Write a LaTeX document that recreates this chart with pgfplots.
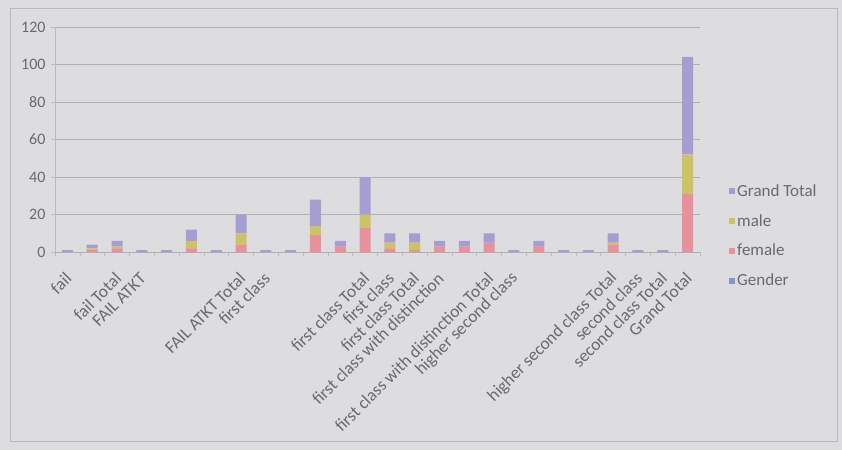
\documentclass[border=0pt]{standalone}
\usepackage{pgfplots}
\pgfplotsset{compat=1.18}
\usepackage{fontspec}
\setmainfont{Carlito}
\definecolor{bgc}{RGB}{221,221,224}
\definecolor{framec}{RGB}{185,185,190}
\definecolor{gridc}{RGB}{175,175,180}
\definecolor{textc}{RGB}{105,105,112}
\definecolor{cfemale}{RGB}{230,145,155}
\definecolor{cmale}{RGB}{205,195,100}
\definecolor{cgt}{RGB}{165,158,210}
\definecolor{cgender}{RGB}{135,150,200}
\begin{document}
\begin{tikzpicture}
\fill[bgc] (0pt,0pt) rectangle (842pt,450pt);
\draw[framec, line width=0.8pt] (10pt,9pt) rectangle (837pt,442pt);
\begin{axis}[
  at={(55pt,198pt)}, anchor=south west,
  scale only axis, width=645pt, height=225pt,
  ybar stacked, bar width=11pt,
  xmin=0.5, xmax=26.5, ymin=0, ymax=120,
  enlarge x limits=false, enlarge y limits=false,
  ytick={0,20,...,120},
  xtick={1,...,26},
  xticklabels={fail,{},fail Total,FAIL ATKT,{},{},{},FAIL ATKT Total,first class,{},{},{},first class Total,first class,first class Total,first class with distinction,{},first class with distinction Total,higher second class,{},{},{},higher second class Total,second class,second class Total,Grand Total},
  minor xtick={0.5,1.5,...,26.5},
  every major x tick/.style={draw=none},
  every minor x tick/.style={draw=framec, line width=0.6pt},
  tick align=outside, major tick length=4pt, minor tick length=4pt,
  every major y tick/.style={draw=framec},
  axis x line*=bottom, axis y line*=left,
  x axis line style={draw=gridc, line width=0.8pt, -},
  y axis line style={draw=framec, line width=0.6pt, -},
  ymajorgrids, grid style={draw=gridc, line width=0.8pt},
  /pgf/number format/assume math mode=true,
  yticklabel style={font=\fontsize{16}{18}\selectfont, text=textc, xshift=-2pt},
  xticklabel style={font=\fontsize{17.4}{19}\selectfont, text=textc, yshift=-19pt, xshift=2pt, rotate=45, anchor=east, inner sep=1pt},
  legend style={at={(1.045,0.31)}, anchor=north west, draw=none, fill=none,
    font=\fontsize{17}{19}\selectfont, text=textc, row sep=12.5pt, inner sep=0pt},
  legend cell align=left,
  reverse legend,
  legend image code/.code={\path[#1,draw=none] (0pt,-3pt) rectangle (6pt,3pt);},
]
\addplot[fill=cgender, draw=none] coordinates {(1,0) (2,0) (3,0) (4,0) (5,0) (6,0) (7,0) (8,0) (9,0) (10,0) (11,0) (12,0) (13,0) (14,0) (15,0) (16,0) (17,0) (18,0) (19,0) (20,0) (21,0) (22,0) (23,0) (24,0) (25,0) (26,0)};
\addplot[fill=cfemale, draw=none] coordinates {(1,0) (2,1) (3,2) (4,0) (5,0) (6,2) (7,0) (8,4) (9,0) (10,0) (11,9) (12,3) (13,13) (14,2) (15,1) (16,3) (17,3) (18,5) (19,0) (20,3) (21,0) (22,0) (23,4) (24,0) (25,0) (26,31)};
\addplot[fill=cmale, draw=none] coordinates {(1,0) (2,1) (3,1) (4,0) (5,0) (6,4) (7,0) (8,6) (9,0) (10,0) (11,5) (12,0) (13,7) (14,3) (15,4) (16,0) (17,0) (18,0) (19,0) (20,0) (21,0) (22,0) (23,1) (24,0) (25,0) (26,21)};
\addplot[fill=cgt, draw=none] coordinates {(1,1) (2,2) (3,3) (4,1) (5,1) (6,6) (7,1) (8,10) (9,1) (10,1) (11,14) (12,3) (13,20) (14,5) (15,5) (16,3) (17,3) (18,5) (19,1) (20,3) (21,1) (22,1) (23,5) (24,1) (25,1) (26,52)};
\legend{Gender,female,male,Grand Total}
\end{axis}
\end{tikzpicture}
\end{document}
